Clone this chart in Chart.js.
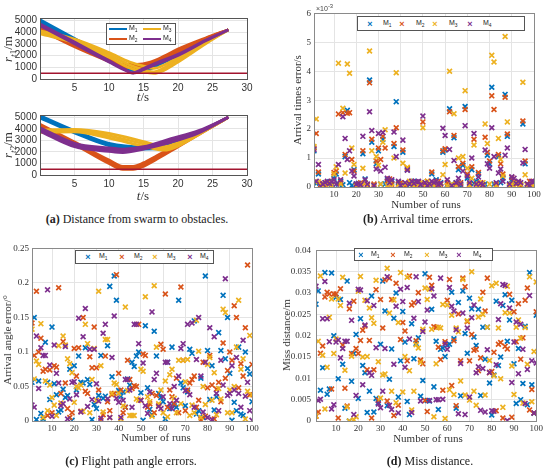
<!DOCTYPE html>
<html>
<head>
<meta charset="utf-8">
<script src="https://cdn.jsdelivr.net/npm/chart.js@4.4.0/dist/chart.umd.min.js"></script>
<style>
body{margin:0;background:#fff;width:550px;height:469px;position:relative;overflow:hidden;font-family:"Liberation Serif",serif;color:#222;}
canvas{position:absolute;}
.t{position:absolute;white-space:nowrap;}
.cap{font-size:12px;transform:translate(-50%,-50%);}
.xt{font-size:11px;transform:translate(-50%,-50%);color:#333;}
.yt{font-size:11px;transform:translate(-50%,-50%) rotate(-90deg);color:#333;}
.big{font-size:13px;}
.leg{position:absolute;border:1px solid #555;background:#fff;font:7px "Liberation Sans",sans-serif;color:#222;}
.leg span{position:absolute;white-space:nowrap;}
.mk{font:bold 9px "Liberation Sans",sans-serif;transform:translate(-50%,-55%);top:50%;}
.lt{transform:translateY(-55%);top:50%;}
.ln{height:0;border-top:2px solid;}
sub{font-size:70%;}
</style>
</head>
<body>
<canvas id="a1"></canvas>
<canvas id="a2"></canvas>
<canvas id="b"></canvas>
<canvas id="c"></canvas>
<canvas id="d"></canvas>

<!-- text around the plots -->
<div class="t yt big" style="left:9px;top:49px"><i>r</i><sub><i>t</i>1</sub>/m</div>
<div class="t xt big" style="left:143px;top:97px"><i>t</i>/s</div>
<div class="t yt big" style="left:9px;top:145px"><i>r</i><sub><i>t</i>2</sub>/m</div>
<div class="t xt big" style="left:143px;top:196px"><i>t</i>/s</div>
<div class="t cap" style="left:137px;top:219px"><b>(a)</b> Distance from swarm to obstacles.</div>

<div class="t" style="left:316px;top:3px;font:7px 'Liberation Sans',sans-serif;color:#444">×10<sup>-3</sup></div>
<div class="t yt" style="left:297px;top:100px">Arrival times error/s</div>
<div class="t xt" style="left:426px;top:204px">Number of runs</div>
<div class="t cap" style="left:418px;top:219px"><b>(b)</b> Arrival time errors.</div>

<div class="t yt" style="left:7px;top:340px">Arrival angle error/°</div>
<div class="t xt" style="left:156px;top:437px">Number of runs</div>
<div class="t cap" style="left:131px;top:461px"><b>(c)</b> Flight path angle errors.</div>

<div class="t yt" style="left:286px;top:335px">Miss distance/m</div>
<div class="t xt" style="left:428px;top:438px">Number of runs</div>
<div class="t cap" style="left:430px;top:461px"><b>(d)</b> Miss distance.</div>

<script>
const names = ["M1", "M2", "M3", "M4"];
const colors = ["#0072BD", "#D95319", "#EDB120", "#7E2F8E"];
const limitColor = "#A2142F";

// tick labels
const tTicks = [5, 10, 15, 20, 25, 30];
const rTicks = [0, 1000, 2000, 3000, 4000, 5000];
const runTicks = [10, 20, 30, 40, 50, 60, 70, 80, 90, 100];
const arrTicks = [0, 1, 2, 3, 4, 5, 6];
const angTicks = [0, 0.05, 0.1, 0.15, 0.2, 0.25];
const missTicks = [0, 0.005, 0.01, 0.015, 0.02, 0.025, 0.03, 0.035, 0.04];

// (a) distance to obstacle 1, each method is a band of several runs: [t, r]
const r1_M1 = [
  [[0,5050],[5,3450],[10,1800],[13,900],[14,560],[15,800],[17,1350],[20,2150],[24,3300],[27.3,4200]],
  [[0,4900],[5,3250],[10,1650],[13,850],[14.3,600],[15.5,800],[17,1250],[20,2050],[24,3250],[27.3,4200]],
  [[0,4750],[5,3100],[10,1550],[13,800],[14.6,650],[16,850],[17,1150],[20,1950],[24,3200],[27.3,4200]]
];
const r1_M2 = [
  [[0,4500],[5,2950],[10,1700],[12,1250],[14,1250],[16,1450],[18,1950],[20,2550],[24,3500],[27.3,4200]],
  [[0,4350],[5,2850],[10,1600],[12,1150],[14,1100],[16,1300],[18,1800],[20,2400],[24,3450],[27.3,4200]],
  [[0,4200],[5,2750],[10,1500],[12,1050],[14,950],[16,1150],[18,1650],[20,2250],[24,3400],[27.3,4200]]
];
const r1_M3 = [
  [[0,4100],[5,3400],[10,2250],[13,1450],[15,1100],[16.5,900],[18,1200],[20,1850],[24,3200],[27.3,4200]],
  [[0,3980],[5,3250],[10,2050],[13,1200],[15,800],[16.5,600],[18,950],[20,1650],[24,3100],[27.3,4200]],
  [[0,3850],[5,3100],[10,1850],[13,950],[15,600],[16.5,480],[18,750],[20,1450],[24,3000],[27.3,4200]]
];
const r1_M4 = [
  [[0,4700],[5,3150],[10,1550],[12.5,750],[13.3,520],[15,900],[17,1400],[20,2100],[24,3300],[27.3,4200]],
  [[0,4550],[5,3000],[10,1450],[12.5,700],[13.5,500],[15,800],[17,1300],[20,2000],[24,3250],[27.3,4200]]
];
// (a) distance to obstacle 2
const r2_M1 = [
  [[0,5150],[5,3850],[10,2750],[15,2450],[18,2500],[20,2950],[24,4000],[27.3,5000]],
  [[0,5050],[5,3750],[10,2650],[15,2350],[18,2400],[20,2850],[24,3950],[27.3,5000]],
  [[0,4950],[5,3650],[10,2550],[15,2250],[18,2300],[20,2750],[24,3900],[27.3,5000]]
];
const r2_M2 = [
  [[0,4400],[5,2850],[10,1300],[12,750],[13.5,750],[15,1050],[17,1700],[20,2650],[24,3950],[27.3,5000]],
  [[0,4250],[5,2750],[10,1150],[12,600],[13.5,600],[15,900],[17,1550],[20,2550],[24,3900],[27.3,5000]],
  [[0,4100],[5,2650],[10,1000],[12,500],[13.5,500],[15,750],[17,1400],[20,2450],[24,3850],[27.3,5000]]
];
const r2_M3 = [
  [[0,3900],[5,3950],[10,3600],[15,2900],[18,2450],[20,2800],[24,3950],[27.3,5000]],
  [[0,3800],[5,3850],[10,3400],[15,2700],[18,2300],[20,2650],[24,3900],[27.3,5000]],
  [[0,3700],[5,3750],[10,3200],[15,2500],[18,2150],[20,2500],[24,3850],[27.3,5000]]
];
const r2_M4 = [
  [[0,4100],[5,2750],[10,2350],[12,2250],[15,2450],[19,3150],[23,3850],[27.3,5000]],
  [[0,3950],[5,2600],[10,2200],[12,2100],[15,2350],[19,3000],[23,3750],[27.3,5000]],
  [[0,3800],[5,2450],[10,2050],[12,1950],[15,2250],[19,2850],[23,3650],[27.3,5000]]
];
const safeDist = [[0,500],[30,500]];

// (b) arrival time error, in units of 1e-3 s, runs 1..100
const arrM1 = [1.25,0.12,0.45,0.05,0.1,0.15,0.12,0.18,0.08,0.3, 0.45,0.1,0.2,0.08,1.05,2.65,0.15,0.05,0.6,0.1,
  0.12,0.05,1.15,0.28,0.05,3.7,1.55,0.05,0.8,1.25, 0.1,1.65,0.1,0.25,0.15,0.2,1.4,2.95,0.15,0.05,
  1.2,0.1,0.6,0.08,0.15,0.2,0.12,0.18,0.05,0.1, 0.15,0.08,0.12,0.45,0.1,0.25,0.05,0.15,1.2,1.28,
  0.08,2.7,0.1,1.7,0.15,0.6,0.05,0.75,2.78,0.3, 0.1,0.6,0.12,0.2,0.45,0.05,0.08,0.1,1.1,0.8,
  3.45,0.1,0.05,1.05,0.15,0.3,3.2,1.75,0.1,0.25, 0.12,0.1,0.15,0.08,2.18,0.8,0.1,0.05,0.12,0.15];
const arrM2 = [1.35,1.85,0.52,0.08,0.12,0.05,0.15,0.1,0.2,0.5, 0.55,2.52,0.15,2.57,1.12,2.55,2.57,0.95,0.55,0.05,
  0.1,0.15,1.25,0.12,0.08,3.6,1.65,0.1,0.9,1.35, 0.95,1.75,1.35,0.2,0.28,0.1,1.5,2.05,0.1,0.15,
  1.28,0.05,0.65,0.12,0.2,0.1,0.05,0.15,0.1,2.25, 0.08,0.2,0.1,0.52,0.15,0.05,0.2,0.1,1.25,1.32,
  0.15,2.6,0.05,1.78,0.1,0.7,0.15,0.82,2.68,0.45, 0.08,0.7,1.65,0.1,0.5,0.15,0.05,1.72,1.2,0.9,
  3.15,2.68,0.1,1.12,0.8,0.45,3.1,1.83,0.05,0.33, 0.2,0.1,0.15,0.05,2.28,0.9,0.1,0.2,0.08,0.12];
const arrM3 = [1.4,2.35,0.18,0.02,0.05,0.1,0.03,0.15,0.05,0.45, 0.7,4.28,0.1,2.72,0.48,4.25,3.93,1.35,0.78,0.02,
  0.05,0.1,0.65,0.15,0.02,4.7,1.25,0.05,1.05,0.75, 0.1,1.55,1.98,0.05,0.12,0.02,1.0,3.95,0.08,0.02,
  0.82,0.1,0.68,0.2,0.05,0.02,0.1,0.05,0.15,2.05, 0.02,0.2,0.05,0.1,0.02,0.15,0.08,0.02,0.42,0.78,
  0.05,4.0,0.1,2.53,0.02,1.0,0.1,1.05,3.33,0.65, 0.05,0.3,1.45,0.02,0.1,0.05,0.15,2.18,1.5,0.1,
  4.55,4.32,0.05,1.68,0.95,0.38,5.2,2.25,0.02,0.1, 0.05,0.15,0.02,0.1,3.62,0.42,0.05,0.02,0.1,0.05];
const arrM4 = [1.3,0.2,0.78,0.02,0.1,0.15,0.2,0.12,0.18,0.25, 0.1,0.78,0.25,2.43,1.68,0.95,1.25,0.55,0.38,0.1,
  0.12,0.08,1.75,0.25,0.1,2.6,1.95,0.05,0.62,1.85, 0.55,1.88,0.68,0.3,0.15,0.25,1.9,1.05,0.2,0.05,
  1.62,0.15,0.58,0.1,0.2,0.12,0.18,0.2,0.08,2.45, 0.15,0.05,0.1,0.2,0.15,0.2,0.08,0.12,2.03,1.78,
  0.25,1.3,0.05,0.92,0.15,0.3,0.1,0.55,2.12,0.38, 0.15,1.0,1.85,0.1,0.35,0.12,0.08,1.28,0.8,0.65,
  2.05,1.05,0.15,0.48,0.62,0.2,1.1,1.35,0.1,0.35, 0.3,0.12,0.2,0.15,0.83,1.3,0.1,0.05,0.2,0.18];

// (c) arrival angle error, degrees
const angM1 = [0.056,0.15,0.002,0.058,0.011,0.003,0.114,0.056,0.031,0.136, 0.054,0.038,0.013,0.016,0.046,0.034,0.037,0.075,0.001,0.08,
  0.045,0.094,0.056,0.055,0.106,0.06,0.053,0.002,0.024,0.018, 0.037,0.095,0.033,0.036,0.109,0.195,0.064,0.21,0.175,0.044,
  0.036,0.042,0.02,0.061,0.052,0.085,0.079,0.094,0.1,0.041, 0.001,0.138,0.048,0.017,0.009,0.13,0.094,0.04,0.034,0.028,
  0.003,0.085,0.018,0.107,0.022,0.02,0.175,0.055,0.048,0.022, 0.042,0.104,0.098,0.145,0.01,0.015,0.062,0.005,0.21,0.102,
  0.031,0.08,0.016,0.035,0.128,0.102,0.182,0.09,0.15,0.069, 0.001,0.027,0.015,0.107,0.01,0.008,0.1,0.076,0.068,0.028];
const angM2 = [0.142,0.095,0.188,0.1,0.12,0.072,0.075,0.008,0.074,0.012, 0.08,0.078,0.193,0.04,0.115,0.055,0.018,0.005,0.012,0.105,
  0.065,0.106,0.014,0.15,0.043,0.04,0.093,0.077,0.136,0.077, 0.045,0.001,0.009,0.094,0.028,0.015,0.038,0.04,0.212,0.069,
  0.045,0.012,0.02,0.088,0.06,0.047,0.051,0.05,0.14,0.03, 0.097,0.095,0.02,0.025,0.04,0.012,0.037,0.022,0.111,0.104,
  0.184,0.02,0.045,0.035,0.025,0.062,0.012,0.194,0.088,0.015, 0.045,0.055,0.06,0.065,0.02,0.03,0.002,0.085,0.007,0.048,
  0.095,0.052,0.003,0.046,0.056,0.028,0.113,0.062,0.073,0.1, 0.088,0.167,0.15,0.048,0.083,0.065,0.135,0.226,0.038,0.082];
const angM3 = [0.133,0.061,0.087,0.082,0.141,0.005,0.058,0.015,0.052,0.034, 0.023,0.008,0.109,0.026,0.123,0.11,0.09,0.083,0.07,0.027,
  0.05,0.048,0.052,0.014,0.14,0.112,0.012,0.06,0.105,0.03, 0.188,0.08,0.013,0.118,0.118,0.005,0.04,0.055,0.053,0.04,
  0.003,0.022,0.165,0.044,0.008,0.008,0.008,0.032,0.03,0.075, 0.072,0.18,0.035,0.028,0.007,0.196,0.107,0.025,0.045,0.012,
  0.058,0.006,0.067,0.075,0.033,0.012,0.088,0.025,0.088,0.057, 0.089,0.008,0.023,0.012,0.146,0.101,0.005,0.05,0.024,0.082,
  0.092,0.03,0.07,0.009,0.047,0.032,0.162,0.157,0.012,0.045, 0.012,0.05,0.107,0.175,0.075,0.09,0.003,0.043,0.124,0.038];
const angM4 = [0.023,0.02,0.123,0.047,0.106,0.095,0.095,0.19,0.081,0.007, 0.11,0.069,0.055,0.022,0.025,0.108,0.003,0.032,0.056,0.057,
  0.038,0.149,0.013,0.122,0.163,0.021,0.104,0.031,0.104,0.054, 0.029,0.004,0.127,0.14,0.032,0.005,0.092,0.152,0.033,0.027,
  0.005,0.03,0.06,0.06,0.045,0.02,0.14,0.14,0.112,0.03, 0.084,0.022,0.011,0.042,0.158,0.06,0.069,0.021,0.018,0.035,
  0.085,0.085,0.025,0.018,0.05,0.03,0.065,0.105,0.112,0.044, 0.14,0.038,0.142,0.02,0.089,0.15,0.065,0.013,0.085,0.005,
  0.135,0.002,0.122,0.04,0.015,0.088,0.052,0.206,0.037,0.04, 0.08,0.045,0.092,0.04,0.02,0.117,0.036,0.056,0.015,0.001];

// (d) miss distance, m
const missM1 = [0.0274,0.0305,0.0072,0.0125,0.0348,0.0063,0.0075,0.0347,0.02,0.029, 0.0099,0.0285,0.0133,0.003,0.0328,0.0,0.0093,0.0158,0.0203,0.0053,
  0.024,0.013,0.0113,0.002,0.007,0.0293,0.0021,0.0053,0.0043,0.018, 0.0328,0.0258,0.0036,0.0098,0.0169,0.0241,0.03,0.0056,0.0141,0.0257,
  0.0185,0.0046,0.0015,0.0228,0.0146,0.0182,0.0195,0.0058,0.0095,0.0345, 0.0048,0.0047,0.0262,0.008,0.0187,0.0027,0.0168,0.0171,0.0151,0.0178,
  0.018,0.0302,0.0193,0.003,0.0278,0.0059,0.0305,0.0205,0.0159,0.0288, 0.0263,0.0197,0.0177,0.0262,0.006,0.022,0.0145,0.022,0.0089,0.0014,
  0.0108,0.0281,0.013,0.015,0.0271,0.0296,0.0187,0.0237,0.0283,0.0134, 0.0041,0.017,0.005,0.0088,0.0222,0.0038,0.0348,0.0085,0.0018,0.0248];
const missM2 = [0.0011,0.0021,0.0159,0.0176,0.0291,0.0302,0.0298,0.0075,0.0298,0.0298, 0.0007,0.031,0.0178,0.0077,0.0035,0.0263,0.0158,0.0281,0.017,0.0158,
  0.0189,0.0213,0.0223,0.012,0.0189,0.0007,0.012,0.0308,0.0049,0.0285, 0.0218,0.0331,0.0047,0.0335,0.0285,0.0013,0.0323,0.0037,0.0191,0.0231,
  0.0211,0.0141,0.034,0.0272,0.0277,0.0188,0.0301,0.0143,0.0134,0.0048, 0.0022,0.0337,0.0318,0.0221,0.022,0.0173,0.0144,0.0072,0.0186,0.0283,
  0.0332,0.0083,0.0188,0.0036,0.0251,0.0141,0.0335,0.0315,0.0233,0.0141, 0.0203,0.0166,0.0168,0.0118,0.0148,0.0302,0.0258,0.0335,0.0113,0.0116,
  0.0161,0.0024,0.018,0.0184,0.0007,0.0175,0.0169,0.0297,0.0009,0.0256, 0.0186,0.0275,0.0145,0.0195,0.0283,0.0312,0.0026,0.0074,0.0019,0.0256];
const missM3 = [0.0012,0.0187,0.034,0.0154,0.0028,0.0126,0.0243,0.0286,0.0158,0.0192, 0.0286,0.0271,0.0337,0.0119,0.0033,0.0,0.0152,0.0003,0.001,0.0304,
  0.0339,0.015,0.0283,0.0151,0.0265,0.0242,0.0229,0.033,0.0139,0.0054, 0.0108,0.011,0.0358,0.0253,0.007,0.0284,0.0043,0.0231,0.0348,0.0068,
  0.0151,0.0337,0.0118,0.0026,0.007,0.0179,0.0171,0.0138,0.0215,0.0312, 0.0285,0.0309,0.0215,0.001,0.0134,0.022,0.0218,0.0273,0.0006,0.0272,
  0.0073,0.0248,0.0062,0.0218,0.0209,0.0094,0.0332,0.0061,0.0235,0.0049, 0.035,0.007,0.0037,0.0244,0.0286,0.025,0.0061,0.022,0.0142,0.0317,
  0.0106,0.0323,0.0218,0.0099,0.0032,0.0254,0.0316,0.0253,0.0129,0.0062, 0.022,0.0237,0.0194,0.0042,0.0219,0.0133,0.0338,0.0045,0.0163,0.0326];
const missM4 = [0.0316,0.0048,0.0051,0.024,0.0327,0.024,0.0186,0.0028,0.0038,0.0185, 0.019,0.0148,0.017,0.0187,0.0187,0.0276,0.0236,0.0015,0.006,0.0309,
  0.0307,0.0085,0.0225,0.0282,0.0113,0.0107,0.0271,0.0172,0.004,0.0031, 0.007,0.017,0.0338,0.0037,0.0027,0.0133,0.0269,0.0019,0.0309,0.028,
  0.0126,0.0313,0.0192,0.002,0.0241,0.0338,0.028,0.0047,0.021,0.0232, 0.026,0.0048,0.031,0.0293,0.005,0.005,0.0335,0.0051,0.0181,0.0168,
  0.0313,0.0269,0.0258,0.0214,0.0017,0.0135,0.0253,0.0015,0.0218,0.0056, 0.0242,0.0272,0.0113,0.0127,0.0025,0.0123,0.0021,0.0167,0.0114,0.0024,
  0.0023,0.0132,0.0238,0.0275,0.032,0.0318,0.0001,0.0265,0.009,0.0185, 0.0232,0.0111,0.0227,0.0168,0.0041,0.0121,0.0294,0.0141,0.0019,0.0136];

const runs = [];
for (let i = 1; i <= 100; i++) runs.push(i);

Chart.defaults.font.family = '"Liberation Sans", Arial, sans-serif';
Chart.defaults.color = '#333';
const serif = '"Liberation Serif", "Times New Roman", serif';

// draws the closed matlab style box round the plot area
const boxPlugin = {
  id: 'box',
  afterDraw(chart, args, opts) {
    const a = chart.chartArea, ctx = chart.ctx;
    ctx.save();
    ctx.strokeStyle = opts.color || '#777';
    ctx.lineWidth = 1;
    ctx.strokeRect(Math.round(a.left) + 0.5, Math.round(a.top) + 0.5, Math.round(a.right - a.left), Math.round(a.bottom - a.top));
    ctx.restore();
  }
};

// axis with fixed tick list and fixed size so the plot area lands where wanted
function axis(min, max, tickVals, font, pad, family) {
  return {
    type: 'linear', min: min, max: max,
    grid: { color: '#e4e4e4', drawTicks: false },
    border: { display: false },
    afterBuildTicks: s => { s.ticks = tickVals.map(v => ({ value: v })); },
    ticks: { font: family ? { size: font, family: family } : { size: font }, padding: pad, maxRotation: 0, autoSkip: false, callback: v => String(v) }
  };
}

function setup(id, box, area, xs, ys, sets, boxColor) {
  const cv = document.getElementById(id);
  cv.width = box.w; cv.height = box.h;
  cv.style.left = box.left + 'px'; cv.style.top = box.top + 'px';
  const xh = box.top + box.h - area.bottom;
  const yw = area.left - box.left;
  xs.afterFit = s => { s.height = xh; };
  ys.afterFit = s => { s.width = yw; };
  return new Chart(cv, {
    type: 'scatter',
    data: { datasets: sets },
    options: {
      animation: false, responsive: false, events: [],
      layout: { autoPadding: false, padding: { top: area.top - box.top, right: box.left + box.w - area.right, left: 0, bottom: 0 } },
      plugins: { legend: { display: false }, tooltip: { enabled: false }, box: { color: boxColor } },
      scales: { x: xs, y: ys }
    },
    plugins: [boxPlugin]
  });
}

function lineSets(groups) {
  const out = [];
  groups.forEach((lines, i) => {
    lines.forEach(pts => out.push({
      data: pts.map(p => ({ x: p[0], y: p[1] })),
      showLine: true, borderColor: colors[i], borderWidth: 2.8, pointRadius: 0,
      cubicInterpolationMode: 'monotone', order: 10 - i
    }));
  });
  out.push({ data: safeDist.map(p => ({ x: p[0], y: p[1] })), showLine: true, borderColor: limitColor, borderWidth: 1.5, pointRadius: 0, order: 0 });
  return out;
}

function scatterSets(series) {
  return series.map((vals, i) => ({
    label: names[i],
    data: vals.map((v, k) => ({ x: runs[k], y: v })),
    pointStyle: 'crossRot', pointRadius: 3.4, borderWidth: 1.7,
    borderColor: colors[i], backgroundColor: colors[i], order: 4 - i
  }));
}

setup('a1', { left: 0, top: 8, w: 258, h: 88 }, { left: 40, top: 18, right: 247, bottom: 79 },
  axis(0, 30, tTicks, 10, 3), axis(0, 5200, rTicks, 10, 3),
  lineSets([r1_M1, r1_M2, r1_M3, r1_M4]), '#555');
setup('a2', { left: 0, top: 105, w: 258, h: 88 }, { left: 40, top: 115, right: 247, bottom: 175 },
  axis(0, 30, tTicks, 10, 3), axis(0, 5200, rTicks, 10, 3),
  lineSets([r2_M1, r2_M2, r2_M3, r2_M4]), '#555');

setup('b', { left: 280, top: 5, w: 265, h: 195 }, { left: 314, top: 13, right: 534, bottom: 187 },
  axis(1, 100, runTicks, 9, 2, serif), axis(0, 6, arrTicks, 9, 3, serif),
  scatterSets([arrM1, arrM2, arrM3, arrM4]), '#8a8a8a');
setup('c', { left: 0, top: 240, w: 262, h: 195 }, { left: 32, top: 247, right: 252, bottom: 421 },
  axis(1, 100, runTicks, 9, 2, serif), axis(0, 0.25, angTicks, 9, 3, serif),
  scatterSets([angM1, angM2, angM3, angM4]), '#8a8a8a');
setup('d', { left: 280, top: 240, w: 265, h: 195 }, { left: 316, top: 246, right: 538, bottom: 421 },
  axis(1, 100, runTicks, 9, 2, serif), axis(0, 0.04, missTicks, 9, 5, serif),
  scatterSets([missM1, missM2, missM3, missM4]), '#8a8a8a');

// legends
function markerLegend(left, top, w, h, marks, texts) {
  const d = document.createElement('div');
  d.className = 'leg';
  Object.assign(d.style, { left: left + 'px', top: top + 'px', width: w + 'px', height: h + 'px' });
  names.forEach((n, i) => {
    const m = document.createElement('span');
    m.className = 'mk'; m.textContent = '×'; m.style.color = colors[i]; m.style.left = marks[i] + 'px';
    const t = document.createElement('span');
    t.className = 'lt'; t.innerHTML = 'M<sub>' + (i + 1) + '</sub>'; t.style.left = texts[i] + 'px';
    d.appendChild(m); d.appendChild(t);
  });
  document.body.appendChild(d);
}
markerLegend(357, 16, 166, 13, [12, 44, 77, 112], [25, 58, 91, 125]);
markerLegend(75, 250, 137, 12, [12, 46, 79, 114], [23, 58, 91, 124]);
markerLegend(354, 248, 137, 11, [6, 38, 72, 104], [16, 49, 84, 118]);

(function () {
  const d = document.createElement('div');
  d.className = 'leg';
  Object.assign(d.style, { left: '106px', top: '23px', width: '68px', height: '20px' });
  const spots = [[2, 5], [2, 15], [36, 5], [36, 15]]; // M1, M2 in column 1, M3, M4 in column 2
  names.forEach((n, i) => {
    const l = document.createElement('span');
    l.className = 'ln';
    Object.assign(l.style, { left: spots[i][0] + 'px', top: (spots[i][1] - 1) + 'px', width: '18px', borderColor: colors[i] });
    const t = document.createElement('span');
    t.innerHTML = 'M<sub>' + (i + 1) + '</sub>';
    Object.assign(t.style, { left: (spots[i][0] + 20) + 'px', top: (spots[i][1] - 5) + 'px' });
    d.appendChild(l); d.appendChild(t);
  });
  document.body.appendChild(d);
})();
</script>
</body>
</html>
